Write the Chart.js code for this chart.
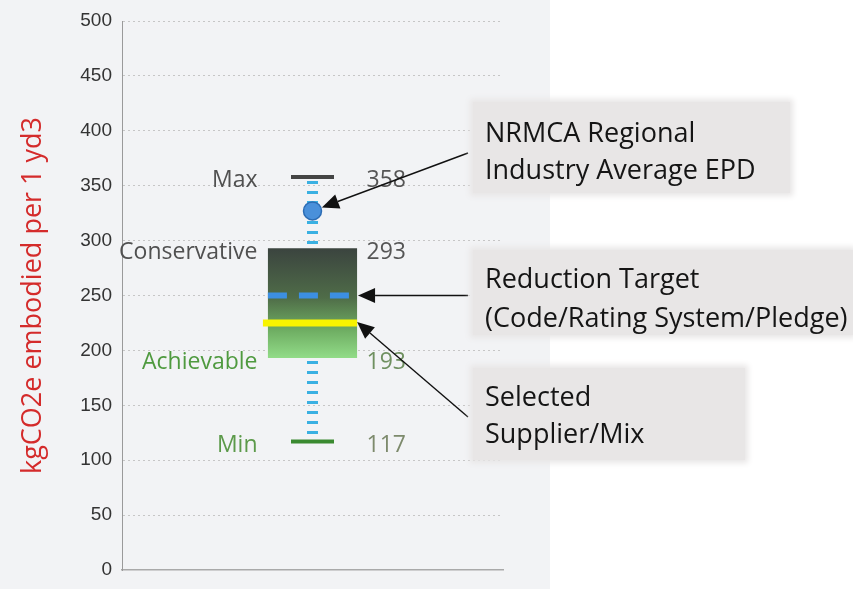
<!DOCTYPE html>
<html>
<head>
<meta charset="utf-8">
<script src="https://cdn.jsdelivr.net/npm/chart.js@4"></script>
<style>
  body { margin: 0; background: #ffffff; overflow: hidden; }
  #wrap { position: relative; width: 853px; height: 589px; }
  #chart { position: absolute; left: 0; top: 0; }
  .callout {
    position: absolute;
    background: #e8e6e6;
    box-shadow: 0 0 6px 3px #e8e6e6;
    font-family: "Open Sans", Lato, sans-serif;
    font-size: 27px;
    line-height: 37px;
    color: #151515;
    padding-left: 12px;
    box-sizing: border-box;
    white-space: nowrap;
  }
</style>
</head>
<body>
<div id="wrap">
  <canvas id="chart" width="853" height="589"></canvas>
  <div class="callout" style="left:473px;top:102px;width:317px;height:91px;padding-top:11px;">NRMCA Regional<br>Industry Average EPD</div>
  <div class="callout" style="left:473px;top:250px;width:380px;height:85px;padding-top:8px;line-height:39px;">Reduction Target<br>(Code/Rating System/Pledge)</div>
  <div class="callout" style="left:473px;top:368px;width:272px;height:92px;padding-top:9px;">Selected<br>Supplier/Mix</div>
</div>
<script>
// DATA
const categories = ['Mix'];
const rangeLow = [193];        // achievable
const rangeHigh = [293];       // conservative
const maxValues = [358];
const minValues = [117];
const industryAvg = [327];     // NRMCA regional EPD
const reductionTarget = [250];
const selectedMix = [225];
const yTicks = [0, 50, 100, 150, 200, 250, 300, 350, 400, 450, 500];
const yTitle = 'kgCO2e embodied per 1 yd3';

// THEME
const LABEL_FONT = '23px "Open Sans", sans-serif';
const WHISKER_COLOR = '#3ab0e2';

function boxGradient(context) {
    const chart = context.chart;
    const y = chart.scales.y;
    if (!chart.chartArea) return '#5a7a50';
    const g = chart.ctx.createLinearGradient(0, y.getPixelForValue(rangeHigh[0]), 0, y.getPixelForValue(rangeLow[0]));
    g.addColorStop(0, '#3b443f');
    g.addColorStop(0.45, '#4f6c48');
    g.addColorStop(0.75, '#6fae63');
    g.addColorStop(1, '#92dc88');
    return g;
}

function drawArrow(ctx, x1, y1, x2, y2) {
    const ang = Math.atan2(y2 - y1, x2 - x1);
    const len = 17, half = 7.5;
    ctx.save();
    ctx.strokeStyle = '#111';
    ctx.fillStyle = '#111';
    ctx.lineWidth = 1.4;
    ctx.beginPath();
    ctx.moveTo(x1, y1);
    ctx.lineTo(x2 - Math.cos(ang) * len, y2 - Math.sin(ang) * len);
    ctx.stroke();
    ctx.beginPath();
    ctx.moveTo(x2, y2);
    ctx.lineTo(x2 - Math.cos(ang) * len - Math.sin(ang) * half, y2 - Math.sin(ang) * len + Math.cos(ang) * half);
    ctx.lineTo(x2 - Math.cos(ang) * len + Math.sin(ang) * half, y2 - Math.sin(ang) * len - Math.cos(ang) * half);
    ctx.closePath();
    ctx.fill();
    ctx.restore();
}

// BACKGROUND PANEL + WHISKER + MARKERS + LABELS
const decorPlugin = {
    id: 'decor',
    beforeDraw(chart) {
        const ctx = chart.ctx;
        ctx.save();
        ctx.fillStyle = '#ffffff';
        ctx.fillRect(0, 0, chart.width, chart.height);
        ctx.fillStyle = '#f2f3f5';
        ctx.fillRect(0, 0, 550, chart.height);
        ctx.restore();
    },
    beforeDatasetsDraw(chart) {
        const ctx = chart.ctx;
        const y = chart.scales.y;
        const cx = chart.scales.x.getPixelForValue(0);
        ctx.save();
        ctx.strokeStyle = WHISKER_COLOR;
        ctx.lineWidth = 11;
        ctx.setLineDash([3, 7]);
        ctx.beginPath();
        ctx.moveTo(cx, y.getPixelForValue(maxValues[0]) + 4);
        ctx.lineTo(cx, y.getPixelForValue(minValues[0]) - 2);
        ctx.stroke();
        ctx.restore();
    },
    afterDatasetsDraw(chart) {
        const ctx = chart.ctx;
        const y = chart.scales.y;
        const bar = chart.getDatasetMeta(0).data[0];
        const left = bar.x - bar.width / 2, right = bar.x + bar.width / 2;
        ctx.save();
        // reduction target
        ctx.strokeStyle = '#3c8fe2';
        ctx.lineWidth = 6;
        ctx.setLineDash([19, 12]);
        ctx.beginPath();
        ctx.moveTo(left, y.getPixelForValue(reductionTarget[0]));
        ctx.lineTo(right, y.getPixelForValue(reductionTarget[0]));
        ctx.stroke();
        // selected mix
        ctx.setLineDash([]);
        ctx.strokeStyle = '#f8f400';
        ctx.lineWidth = 7;
        ctx.beginPath();
        ctx.moveTo(left - 5, y.getPixelForValue(selectedMix[0]));
        ctx.lineTo(right, y.getPixelForValue(selectedMix[0]));
        ctx.stroke();
        ctx.restore();
    },
    afterDraw(chart) {
        const ctx = chart.ctx;
        const y = chart.scales.y;
        const bar = chart.getDatasetMeta(0).data[0];
        const cx = bar.x, right = bar.x + bar.width / 2;
        const labelX = cx - 55, numX = cx + 54;
        const rows = [
            ['Max', maxValues[0], '#505050', '#555555'],
            ['Conservative', rangeHigh[0], '#505050', '#555555'],
            ['Achievable', rangeLow[0], '#4f9a3f', '#6f9060'],
            ['Min', minValues[0], '#5c9a4a', '#7d8a6c']
        ];
        ctx.save();
        ctx.font = LABEL_FONT;
        ctx.textBaseline = 'middle';
        rows.forEach(([name, val, c1, c2]) => {
            const py = y.getPixelForValue(val) + 4;
            ctx.textAlign = 'right';
            ctx.fillStyle = c1;
            ctx.fillText(name, labelX, py);
            ctx.textAlign = 'left';
            ctx.fillStyle = c2;
            ctx.fillText(String(val), numX, py);
        });
        ctx.restore();

        // callout arrows
        const pt = chart.getDatasetMeta(3).data[0];
        const sx1 = 468, sy1 = 153;
        const a = Math.atan2(sy1 - pt.y, sx1 - pt.x);
        drawArrow(ctx, sx1, sy1, pt.x + Math.cos(a) * 10, pt.y + Math.sin(a) * 10);
        drawArrow(ctx, 468, y.getPixelForValue(reductionTarget[0]), right + 1, y.getPixelForValue(reductionTarget[0]));
        drawArrow(ctx, 468, 417, right, y.getPixelForValue(selectedMix[0]) - 1);
    }
};

const ctx = document.getElementById('chart').getContext('2d');
new Chart(ctx, {
    type: 'bar',
    data: {
        labels: categories,
        datasets: [
            {
                label: 'Range',
                data: categories.map((c, i) => [rangeLow[i], rangeHigh[i]]),
                backgroundColor: boxGradient,
                borderWidth: 0,
                categoryPercentage: 1,
                barPercentage: 0.234,
                order: 3
            },
            {
                type: 'line',
                label: 'Max',
                data: maxValues,
                showLine: false,
                pointStyle: 'line',
                pointRadius: 21.5,
                borderColor: '#444444',
                borderWidth: 4,
                order: 2
            },
            {
                type: 'line',
                label: 'Min',
                data: minValues,
                showLine: false,
                pointStyle: 'line',
                pointRadius: 21.5,
                borderColor: '#3a8a30',
                borderWidth: 4,
                order: 2
            },
            {
                type: 'line',
                label: 'NRMCA Regional Industry Average EPD',
                data: industryAvg,
                showLine: false,
                pointRadius: 9,
                backgroundColor: '#4a90da',
                borderColor: '#2c6cb4',
                borderWidth: 1.5,
                order: 1
            }
        ]
    },
    options: {
        responsive: false,
        animation: false,
        layout: { autoPadding: false, padding: { left: 17, right: 350, top: 21, bottom: 19 } },
        plugins: {
            legend: { display: false },
            tooltip: { enabled: false }
        },
        scales: {
            x: {
                ticks: { display: false },
                grid: { display: false },
                border: { color: '#a9a9a9', width: 1.5 },
                afterFit: s => { s.height = 0; }
            },
            y: {
                min: 0,
                max: 500,
                afterBuildTicks: s => { s.ticks = yTicks.map(v => ({ value: v })); },
                afterFit: s => { s.width = 105; s.paddingTop = 0; s.paddingBottom = 0; },
                ticks: {
                    color: '#333333',
                    padding: 10,
                    font: { family: '"Liberation Sans", Arial, sans-serif', size: 19 }
                },
                grid: {
                    color: c => c.tick.value === 0 ? 'rgba(0,0,0,0)' : '#c6c6c6',
                    drawTicks: false,
                    lineWidth: 1
                },
                border: { color: '#9a9a9a', dash: [2, 3], display: true },
                title: {
                    display: true,
                    text: yTitle,
                    color: '#d42b2b',
                    font: { family: '"Open Sans", sans-serif', size: 27 },
                    padding: { top: 0, bottom: 0 }
                }
            }
        }
    },
    plugins: [decorPlugin]
});
</script>
</body>
</html>
